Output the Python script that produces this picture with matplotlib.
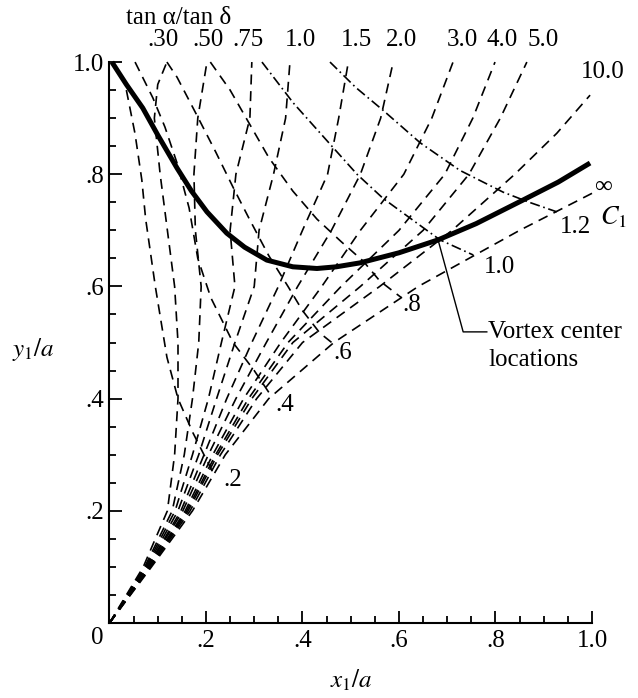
import matplotlib
matplotlib.use("Agg")
import matplotlib.pyplot as plt
from matplotlib.ticker import MultipleLocator, FixedLocator, FixedFormatter

plt.rcParams['font.family'] = ['Liberation Serif', 'DejaVu Serif']
plt.rcParams['mathtext.fontset'] = 'stix'

# fan of constant tan(alpha)/tan(delta) curves, all leaving the origin
y_lv = [0.0, 0.1, 0.2, 0.3, 0.4, 0.5, 0.6, 0.7, 0.8, 0.9, 1.0]
x_r030 = [0, 0.07, 0.12, 0.135, 0.142, 0.142, 0.135, 0.12, 0.105, 0.093, 0.1, 0.119]
y_r030 = [0.0, 0.1, 0.2, 0.3, 0.4, 0.5, 0.6, 0.7, 0.8, 0.9, 0.96, 1.0]
x_r050 = [0, 0.073, 0.13, 0.155, 0.172, 0.185, 0.19, 0.178, 0.175, 0.183, 0.202]
x_r075 = [0, 0.075, 0.136, 0.172, 0.205, 0.232, 0.26, 0.25, 0.262, 0.291, 0.295]
x_r100 = [0, 0.077, 0.142, 0.185, 0.222, 0.26, 0.3, 0.31, 0.34, 0.365, 0.374]
x_r150 = [0, 0.079, 0.148, 0.196, 0.243, 0.295, 0.35, 0.40, 0.452, 0.475, 0.495]
x_r200 = [0, 0.08, 0.152, 0.205, 0.262, 0.325, 0.39, 0.46, 0.52, 0.562, 0.588]
x_r300 = [0, 0.082, 0.157, 0.214, 0.278, 0.355, 0.44, 0.52, 0.61, 0.668, 0.712]
x_r400 = [0, 0.083, 0.16, 0.22, 0.288, 0.37, 0.48, 0.60, 0.695, 0.753, 0.799]
x_r500 = [0, 0.084, 0.163, 0.224, 0.295, 0.38, 0.52, 0.65, 0.745, 0.81, 0.865]
x_r10 = [0, 0.085, 0.167, 0.23, 0.305, 0.40, 0.56, 0.71, 0.84, 0.927, 0.996]
y_r10 = [0.0, 0.1, 0.2, 0.3, 0.4, 0.5, 0.6, 0.7, 0.8, 0.873, 0.941]
x_rinf = [0, 0.087, 0.172, 0.24, 0.33, 0.465, 0.64, 0.85, 1.0]
y_rinf = [0.0, 0.1, 0.2, 0.3, 0.4, 0.5, 0.6, 0.7, 0.766]

ratio_labels = ['.30', '.50', '.75', '1.0', '1.5', '2.0', '3.0', '4.0', '5.0']
ratio_label_x = [0.111, 0.204, 0.287, 0.395, 0.511, 0.606, 0.731, 0.813, 0.898]

# constant C1 curves
x_c02 = [0.035, 0.053, 0.067, 0.075, 0.095, 0.119, 0.142, 0.173, 0.214]
y_c02 = [0.95, 0.872, 0.79, 0.72, 0.6, 0.474, 0.40, 0.339, 0.269]
x_c04 = [0.053, 0.09, 0.115, 0.14, 0.165, 0.183, 0.21, 0.256, 0.30, 0.335]
y_c04 = [1.0, 0.936, 0.884, 0.82, 0.74, 0.65, 0.58, 0.50, 0.45, 0.405]
x_c06 = [0.119, 0.14, 0.183, 0.22, 0.256, 0.29, 0.33, 0.37, 0.40, 0.436, 0.462]
y_c06 = [1.0, 0.973, 0.902, 0.84, 0.777, 0.72, 0.655, 0.60, 0.557, 0.517, 0.499]
x_c08 = [0.209, 0.25, 0.29, 0.33, 0.38, 0.43, 0.48, 0.526, 0.56, 0.605]
y_c08 = [1.0, 0.95, 0.89, 0.83, 0.77, 0.72, 0.68, 0.645, 0.61, 0.58]
x_c10 = [0.316, 0.381, 0.463, 0.513, 0.567, 0.637, 0.685, 0.754]
y_c10 = [1.0, 0.927, 0.848, 0.80, 0.757, 0.713, 0.683, 0.656]
x_c12 = [0.457, 0.51, 0.567, 0.644, 0.726, 0.816, 0.87, 0.927]
y_c12 = [1.0, 0.955, 0.914, 0.856, 0.807, 0.768, 0.75, 0.733]

c1_labels = ['.2', '.4', '.6', '.8', '1.0', '1.2']
c1_label_x = [0.256, 0.364, 0.484, 0.627, 0.809, 0.965]
c1_label_y = [0.255, 0.389, 0.481, 0.567, 0.635, 0.706]

# vortex center locus
x_vc = [0.005, 0.035, 0.069, 0.10, 0.14, 0.17, 0.202, 0.243, 0.28, 0.326, 0.38,
        0.43, 0.47, 0.519, 0.6, 0.681, 0.76, 0.857, 0.93, 0.996]
y_vc = [1.0, 0.96, 0.918, 0.87, 0.811, 0.77, 0.733, 0.695, 0.67, 0.647, 0.635,
        0.632, 0.635, 0.642, 0.66, 0.683, 0.712, 0.754, 0.786, 0.82]

fig = plt.figure(figsize=(6.38, 6.98), dpi=100)
ax = fig.add_axes([0.1716, 0.1074, 0.7563, 0.8037])

dash = (6.0, 4.0)
dashdot = (6, 2.2, 1.0, 2.2)
lw_thin = 1.2

fan = [(x_r030, y_r030), (x_r050, y_lv), (x_r075, y_lv), (x_r100, y_lv),
       (x_r150, y_lv), (x_r200, y_lv), (x_r300, y_lv), (x_r400, y_lv),
       (x_r500, y_lv), (x_r10, y_r10), (x_rinf, y_rinf)]
for xs, ys in fan:
    ax.plot(xs, ys, color='black', lw=lw_thin, dashes=dash, clip_on=False)

for xs, ys in [(x_c02, y_c02), (x_c04, y_c04), (x_c06, y_c06), (x_c08, y_c08)]:
    ax.plot(xs, ys, color='black', lw=lw_thin, dashes=dash, clip_on=False)
for xs, ys in [(x_c10, y_c10), (x_c12, y_c12)]:
    ax.plot(xs, ys, color='black', lw=lw_thin, dashes=dashdot, clip_on=False)

ax.plot(x_vc, y_vc, color='black', lw=3.6, solid_capstyle='butt', clip_on=False)

# leader to the label
ax.plot([x_vc[15], 0.733, 0.782], [y_vc[15], 0.519, 0.519], color='black', lw=1.0)
fs = 18
ax.text(0.785, 0.519, 'Vortex center', fontsize=fs, ha='left', va='center')
ax.text(0.785, 0.469, 'locations', fontsize=fs, ha='left', va='center')

for lab, lx in zip(ratio_labels, ratio_label_x):
    ax.text(lx, 1.039, lab, fontsize=fs, ha='center', va='center', clip_on=False)
ax.text(1.023, 0.982, '10.0', fontsize=fs, ha='center', va='center')
ax.text(1.023, 0.777, '∞', fontsize=fs, ha='center', va='center')
ax.text(0.144, 1.078, 'tan α/tan δ', fontsize=fs, ha='center', va='center')

for lab, lx, ly in zip(c1_labels, c1_label_x, c1_label_y):
    ax.text(lx, ly, lab, fontsize=fs, ha='center', va='center')
ax.text(1.044, 0.724, '$C_1$', fontsize=fs + 1, ha='center', va='center')

ax.text(-0.159, 0.487, '$y_1/a$', fontsize=fs, ha='center', va='center')
ax.text(0.5, -0.102, '$x_1/a$', fontsize=fs, ha='center', va='center')
# origin label sits a little left of the corner
ax.text(-0.026, -0.027, '0', fontsize=fs, ha='center', va='center')

ax.set_xlim(0, 1)
ax.set_ylim(0, 1)
for side in ['top', 'right']:
    ax.spines[side].set_visible(False)
for side in ['left', 'bottom']:
    ax.spines[side].set_linewidth(1.5)

major = [0.0, 0.2, 0.4, 0.6, 0.8, 1.0]
ax.xaxis.set_major_locator(FixedLocator(major))
ax.xaxis.set_major_formatter(FixedFormatter(['', '.2', '.4', '.6', '.8', '1.0']))
ax.yaxis.set_major_locator(FixedLocator(major))
ax.yaxis.set_major_formatter(FixedFormatter(['', '.2', '.4', '.6', '.8', '1.0']))
ax.xaxis.set_minor_locator(MultipleLocator(0.05))
ax.yaxis.set_minor_locator(MultipleLocator(0.05))
ax.tick_params(which='both', direction='in', width=1.3, labelsize=fs)
ax.tick_params(which='major', length=9)
ax.tick_params(which='minor', length=5)
ax.tick_params(axis='x', pad=5)
ax.tick_params(axis='y', pad=4)

fig.savefig('out.png', dpi=100)
